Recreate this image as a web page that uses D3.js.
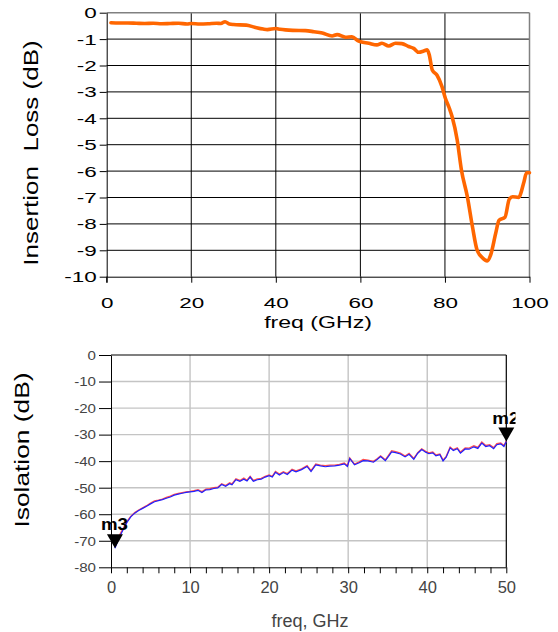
<!DOCTYPE html>
<html><head><meta charset="utf-8">
<script src="https://cdn.jsdelivr.net/npm/d3@7"></script>
<style>body{margin:0;background:#fff}svg{display:block}</style>
</head><body>
<script>
// ---------- Insertion loss (top chart) ----------
const ilFreq = [1,3,5,7,9,11,13,15,17,19,20,22,24,26,27,28,29,30,33,35,37,38,40,41,44,47,49,51,53.3,54.5,56.5,58,59.6,62,63.9,65.1,66.7,68.3,69.8,71.4,72.6,73.8,75,75.8,76.3,77,78.1,79.3,80.1,81,81.7,82.9,83.9,85.3,86.5,87.6,88.8,90,90.8,92,92.8,94.2,95.2,96,97.4,98.7,99.3,100];
const ilValues = [-0.38,-0.39,-0.39,-0.40,-0.41,-0.40,-0.42,-0.41,-0.40,-0.43,-0.41,-0.43,-0.42,-0.40,-0.41,-0.34,-0.43,-0.45,-0.47,-0.55,-0.62,-0.64,-0.60,-0.63,-0.67,-0.68,-0.72,-0.77,-0.88,-0.83,-0.93,-0.91,-1.08,-1.16,-1.22,-1.16,-1.26,-1.16,-1.17,-1.28,-1.35,-1.50,-1.45,-1.41,-1.60,-2.17,-2.36,-2.80,-3.24,-3.60,-3.94,-4.82,-5.96,-6.97,-8.10,-8.99,-9.27,-9.40,-9.18,-8.36,-7.86,-7.75,-7.07,-6.97,-7.00,-6.40,-6.06,-6.06];
const ilXTicks = [0,20,40,60,80,100];
const ilYTicks = [0,-1,-2,-3,-4,-5,-6,-7,-8,-9,-10];

// ---------- Isolation (bottom chart) ----------
const isoFreq = [0.5,0.8,1.2,1.6,2.0,2.5,3.0,3.5,4.0,4.5,5.0,5.5,6.0,6.5,7.0,7.5,8.0,8.5,9.0,9.5,10.0,10.5,11.0,11.5,12.0,12.5,13.0,13.5,14.0,14.5,15.0,15.3,15.8,16.3,16.8,17.2,17.6,18.0,18.5,19.0,19.5,20.0,20.4,20.8,21.3,21.8,22.3,22.9,23.4,24.1,24.8,25.3,25.9,26.5,27.1,27.7,28.3,28.9,29.5,29.9,30.2,30.8,31.4,31.9,32.5,33.2,33.7,34.1,34.7,35.1,35.5,36.0,36.6,37.2,37.7,38.3,38.8,39.3,39.8,40.2,40.7,41.1,41.6,42.0,42.4,42.9,43.3,43.8,44.2,44.8,45.3,45.9,46.4,46.9,47.4,47.9,48.4,48.8,49.3,49.7,50.0];
const isoBlue = [-72.8,-70.5,-67.8,-65.5,-63.2,-61.0,-59.6,-58.6,-57.8,-57.0,-56.1,-55.3,-54.9,-54.5,-54.0,-53.5,-52.8,-52.4,-52.1,-51.8,-51.6,-51.4,-51.0,-51.8,-50.8,-50.7,-50.3,-50.1,-48.8,-49.5,-48.5,-48.9,-47.0,-47.6,-46.8,-47.5,-46.0,-47.6,-47.0,-46.8,-46.0,-45.5,-46.0,-44.2,-45.2,-44.3,-45.0,-43.4,-44.0,-43.2,-42.0,-43.9,-41.4,-41.8,-42.1,-41.9,-41.8,-41.5,-41.0,-42.0,-39.0,-41.4,-40.6,-39.8,-39.9,-40.4,-39.3,-38.3,-39.8,-38.2,-36.5,-36.8,-37.3,-38.4,-37.4,-39.3,-37.0,-35.6,-36.6,-37.2,-36.9,-38.0,-37.6,-39.9,-38.5,-35.0,-36.0,-35.3,-37.0,-35.4,-35.5,-34.6,-35.2,-33.2,-34.5,-34.2,-35.3,-33.8,-33.5,-34.5,-32.6];
const isoRed  = [-72.3,-69.8,-67.2,-65.0,-62.8,-60.8,-59.4,-58.4,-57.6,-56.8,-55.8,-55.0,-54.7,-54.3,-53.7,-53.2,-52.5,-52.2,-51.9,-51.6,-51.4,-51.1,-50.8,-51.5,-50.6,-50.4,-50.0,-49.8,-48.5,-49.2,-48.2,-48.6,-46.7,-47.3,-46.4,-47.2,-45.7,-47.3,-46.7,-46.5,-45.7,-45.2,-45.7,-43.9,-44.9,-44.0,-44.7,-43.1,-43.7,-42.9,-41.7,-43.6,-41.1,-41.5,-41.7,-41.5,-41.5,-41.2,-40.7,-41.7,-38.8,-41.1,-40.3,-39.4,-39.6,-40.1,-39.0,-38.0,-39.5,-37.8,-36.1,-36.4,-37.0,-38.1,-37.1,-39.0,-36.8,-35.4,-36.3,-36.9,-36.6,-37.7,-37.3,-39.6,-38.2,-34.7,-35.7,-35.0,-36.6,-35.0,-35.1,-34.2,-34.8,-32.8,-34.1,-33.8,-34.9,-33.4,-33.2,-34.1,-32.4];
const isoXTicks = [0,10,20,30,40,50];
const isoXMinor = [0,2,4,6,8,10,12,14,16,18,20,22,24,26,28,30,32,34,36,38,40,42,44,46,48,50];
const isoYTicks = [0,-10,-20,-30,-40,-50,-60,-70,-80];
const markerNames = ["m3","m2"];
const markerFreq = [0.5,50];
const markerValue = [-72.8,-32.6];

const W = 558, H = 632;
const FONT = "'Liberation Sans', Arial, Helvetica, sans-serif";
const svg = d3.select("body").append("svg").attr("width", W).attr("height", H)
  .style("font-family", FONT);

// ================= TOP CHART =================
const xT = d3.scaleLinear().domain([0,100]).range([106.7,529.5]);
const yT = d3.scaleLinear().domain([-10,0]).range([276.7,12.7]);
const gTop = svg.append("g");

gTop.append("g").selectAll("line").data(ilYTicks.filter(t => t !== 0 && t !== -10)).join("line")
  .attr("x1", xT(0)).attr("x2", xT(100)).attr("y1", d => yT(d)).attr("y2", d => yT(d))
  .attr("stroke", "#000").attr("stroke-width", 1);
gTop.append("g").selectAll("line").data(ilXTicks.filter(t => t !== 0 && t !== 100)).join("line")
  .attr("x1", d => xT(d)).attr("x2", d => xT(d)).attr("y1", yT(0)).attr("y2", yT(-10))
  .attr("stroke", "#000").attr("stroke-width", 1);
gTop.append("line").attr("x1", xT(0)).attr("x2", xT(100)).attr("y1", yT(0)).attr("y2", yT(0))
  .attr("stroke", "#808080").attr("stroke-width", 1.5);
gTop.append("line").attr("x1", xT(100)).attr("x2", xT(100)).attr("y1", yT(0)).attr("y2", yT(-10))
  .attr("stroke", "#808080").attr("stroke-width", 1.5);

const sxTop = 1.45;
const yAxT = gTop.append("g").attr("transform", `translate(${xT(0)},0)`)
  .call(d3.axisLeft(yT).tickValues(ilYTicks).tickSize(7).tickSizeOuter(0).tickFormat(d => String(d)));
const xAxT = gTop.append("g").attr("transform", `translate(0,${yT(-10)})`)
  .call(d3.axisBottom(xT).tickValues(ilXTicks).tickSize(6).tickSizeOuter(0).tickFormat(d => String(d)));
[yAxT, xAxT].forEach(a => {
  a.selectAll("path,line").attr("stroke", "#000");
  a.selectAll("text").attr("font-family", FONT).attr("font-size", 15.5).attr("fill", "#000");
});
yAxT.selectAll("text").attr("x", -10 / sxTop).attr("transform", `scale(${sxTop},1)`);
xAxT.selectAll("text").attr("y", 31).attr("dy", 0).attr("transform", `scale(${sxTop},1)`).attr("x", 0);
gTop.append("line").attr("x1", xT(0)).attr("x2", xT(0)).attr("y1", yT(-10)).attr("y2", yT(-10) + 6)
  .attr("stroke", "#000");

const ilLine = d3.line().x(d => xT(d[0])).y(d => yT(d[1])).curve(d3.curveMonotoneX);
gTop.append("path").datum(d3.zip(ilFreq, ilValues)).attr("d", ilLine)
  .attr("fill", "none").attr("stroke", "#ff6600").attr("stroke-width", 3.6)
  .attr("stroke-linejoin", "round").attr("stroke-linecap", "round");

gTop.append("text").attr("transform", "translate(38,153) rotate(-90) scale(1.3,1)")
  .attr("text-anchor", "middle").attr("font-size", 20).attr("fill", "#000")
  .attr("xml:space", "preserve").style("white-space", "pre")
  .text("Insertion  Loss (dB)");
gTop.append("text").attr("transform", "translate(318,328) scale(1.4,1)")
  .attr("text-anchor", "middle").attr("font-size", 16.5).attr("fill", "#000")
  .text("freq (GHz)");

// ================= BOTTOM CHART =================
const xB = d3.scaleLinear().domain([0,50]).range([111,506.3]);
const yB = d3.scaleLinear().domain([-80,0]).range([567.3,355]);
const gBot = svg.append("g");

gBot.append("g").selectAll("line").data(isoYTicks.filter(t => t !== 0 && t !== -80)).join("line")
  .attr("x1", xB(0)).attr("x2", xB(50)).attr("y1", d => yB(d)).attr("y2", d => yB(d))
  .attr("stroke", "#c4c4c4").attr("stroke-width", 1.4);
gBot.append("g").selectAll("line").data(isoXTicks.filter(t => t !== 0 && t !== 50)).join("line")
  .attr("x1", d => xB(d)).attr("x2", d => xB(d)).attr("y1", yB(0)).attr("y2", yB(-80))
  .attr("stroke", "#c4c4c4").attr("stroke-width", 1.4);
gBot.append("line").attr("x1", xB(0)).attr("x2", xB(50)).attr("y1", yB(0)).attr("y2", yB(0))
  .attr("stroke", "#000").attr("stroke-width", 1.2);
gBot.append("line").attr("x1", xB(50)).attr("x2", xB(50)).attr("y1", yB(0)).attr("y2", yB(-80))
  .attr("stroke", "#000").attr("stroke-width", 1.2);

const yAxB = gBot.append("g").attr("transform", `translate(${xB(0)},0)`)
  .call(d3.axisLeft(yB).tickValues(isoYTicks).tickSize(12).tickPadding(3).tickSizeOuter(0).tickFormat(d => String(d)));
const xAxBMinor = gBot.append("g").attr("transform", `translate(0,${yB(-80)})`)
  .call(d3.axisBottom(xB).tickValues(isoXMinor).tickSize(6).tickSizeOuter(0).tickFormat(""));
const xAxB = gBot.append("g").attr("transform", `translate(0,${yB(-80)})`)
  .call(d3.axisBottom(xB).tickValues(isoXTicks).tickSize(0).tickSizeOuter(0).tickFormat(d => String(d)));
xAxB.select(".domain").remove();
[yAxB, xAxBMinor].forEach(a => a.selectAll("path,line").attr("stroke", "#000"));
yAxB.selectAll("text").attr("font-family", FONT).attr("font-size", 13.5).attr("fill", "#444")
  .attr("x", -15 / 1.12).attr("transform", "scale(1.12,1)");
xAxB.selectAll("text").attr("font-family", FONT).attr("font-size", 16.5).attr("fill", "#444")
  .attr("y", 26).attr("dy", 0);

const isoLine = d3.line().x(d => xB(d[0])).y(d => yB(d[1]));
gBot.append("path").datum(d3.zip(isoFreq, isoRed)).attr("d", isoLine)
  .attr("fill", "none").attr("stroke", "#ff3333").attr("stroke-width", 1.4).attr("stroke-opacity", 0.85);
gBot.append("path").datum(d3.zip(isoFreq, isoBlue)).attr("d", isoLine)
  .attr("fill", "none").attr("stroke", "#2020ff").attr("stroke-width", 1.2);

svg.append("defs").append("clipPath").attr("id", "mclip")
  .append("rect").attr("x", 0).attr("y", 0).attr("width", 515.5).attr("height", H);
const mk = gBot.append("g").selectAll("g").data(d3.range(markerNames.length)).join("g")
  .attr("transform", i => `translate(${xB(markerFreq[i])},${yB(markerValue[i])})`);
mk.append("path").attr("d", "M-8,-14L8,-14L0,0Z").attr("fill", "#000");
gBot.append("g").attr("clip-path", "url(#mclip)").selectAll("text").data(d3.range(markerNames.length)).join("text")
  .attr("transform", i => `translate(${xB(markerFreq[i]) - 14},${yB(markerValue[i]) - 18}) scale(1.1,1)`)
  .attr("font-size", 17).attr("font-weight", "bold").attr("fill", "#000")
  .text(i => markerNames[i]);

gBot.append("text").attr("transform", "translate(29,450) rotate(-90) scale(1.35,1)")
  .attr("text-anchor", "middle").attr("font-size", 19.5).attr("fill", "#000")
  .text("Isolation (dB)");
gBot.append("text").attr("transform", "translate(310,627)")
  .attr("text-anchor", "middle").attr("font-size", 18).attr("fill", "#444")
  .text("freq, GHz");
</script>
</body></html>
